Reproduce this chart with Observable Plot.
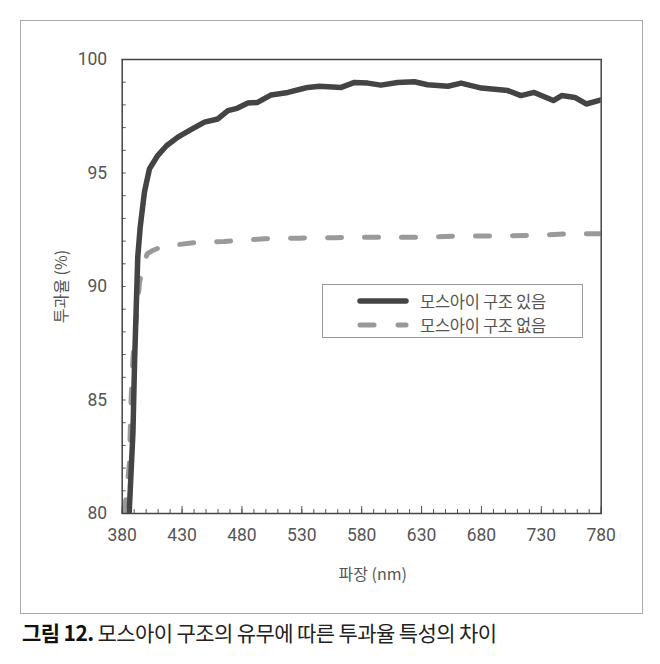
<!DOCTYPE html>
<html><head><meta charset="utf-8">
<script src="https://cdn.jsdelivr.net/npm/d3@7"></script>
<script src="https://cdn.jsdelivr.net/npm/@observablehq/plot@0.6"></script>
<style>
html,body{margin:0;padding:0;background:#fff;}
#wrap{position:relative;width:660px;height:664px;}
#border{position:absolute;left:20px;top:20px;width:623px;height:594px;border:1px solid #aaa;box-sizing:border-box;}
#chart{position:absolute;left:0;top:0;}
#legend{position:absolute;left:322px;top:284px;width:261px;height:54px;border:1px solid #9a9a9a;box-sizing:border-box;background:#fff;font-family:"Noto Sans CJK KR",sans-serif;font-weight:400;font-size:16.5px;color:#555;}
.row{position:absolute;left:34px;display:flex;align-items:center;}
.row span{margin-left:11px;letter-spacing:-0.3px;}
#caption{position:absolute;left:22px;top:617px;font-family:"Noto Sans CJK KR",sans-serif;font-size:21px;color:#222;letter-spacing:-0.6px;}
#caption b{font-weight:700;color:#111;}
</style>
</head><body>
<div id="wrap">
  <div id="border"></div>
  <div id="chart"></div>
  <div id="legend">
    <div class="row" style="top:4px"><svg width="52" height="20"><line x1="3" y1="10" x2="49" y2="10" stroke="#444" stroke-width="5.5" stroke-linecap="round"/></svg><span>모스아이 구조 있음</span></div>
    <div class="row" style="top:28px"><svg width="52" height="20"><line x1="3" y1="10" x2="49" y2="10" stroke="#999" stroke-width="5" stroke-linecap="round" stroke-dasharray="14,24"/></svg><span>모스아이 구조 없음</span></div>
  </div>
  <div id="caption"><b>그림 12.</b> 모스아이 구조의 유무에 따른 투과율 특성의 차이</div>
</div>
<script>
// Series: with moth-eye structure (solid)
const withNm  = [385.8,389,390.3,391.7,393,395,398.6,402.8,409.8,417,426.5,437,448.7,459.9,468.3,476,485,493,504.4,518.4,529.5,535,544.8,552,562.9,574,585,596,610,624,635,652,663,680,702,713,724,740,747,758,767.5,780];
const withVal = [80,83.6,86.6,89.05,91.3,92.6,94.17,95.19,95.78,96.2,96.58,96.9,97.24,97.38,97.75,97.85,98.08,98.11,98.44,98.55,98.7,98.77,98.82,98.8,98.77,98.99,98.96,98.87,98.99,99.02,98.89,98.82,98.96,98.74,98.63,98.41,98.55,98.19,98.41,98.33,98.04,98.22];
// Series: without moth-eye structure (dashed)
const withoutNm  = [381,383.3,386,387.5,389,391.7,394.5,398,401,406,415,427,444,465,499,528,558,581,629,660,691,721,753,780];
const withoutVal = [80.0,80.7,82.2,85.1,86.86,88.6,90.2,91.0,91.45,91.6,91.8,91.85,91.95,91.98,92.1,92.13,92.15,92.17,92.17,92.22,92.22,92.25,92.32,92.32];

const xTicks = [380,430,480,530,580,630,680,730,780];
const yTicks = [80,85,90,95,100];
const xMinor = d3.range(380,781,10);
const yMinor = d3.range(80,101,1);

const withData = withNm.map((x,i)=>({x, y: withVal[i]}));
const withoutData = withoutNm.map((x,i)=>({x, y: withoutVal[i]}));

const numFont = 'Roboto,"Liberation Sans",sans-serif';
const krFont = '"Noto Sans CJK KR",sans-serif';

const chart = Plot.plot({
  width: 660,
  height: 614,
  marginLeft: 121.7,
  marginRight: 59.3,
  marginTop: 59,
  marginBottom: 101,
  x: {domain: [380,780]},
  y: {domain: [80,100]},
  style: {background: "transparent", color: "#555"},
  marks: [
    Plot.line(withoutData, {x:"x", y:"y", stroke:"#9a9a9a", strokeWidth:5, strokeDasharray:"14,23", strokeLinecap:"round", clip:true}),
    Plot.line(withData, {x:"x", y:"y", stroke:"#444", strokeWidth:5.5, strokeLinejoin:"round", clip:true}),
    Plot.axisX({ticks: xMinor, tickSize: -4, text: null, label: null, stroke:"#555"}),
    Plot.axisX({ticks: xTicks, tickSize: -7, text: null, label: null, stroke:"#555"}),
    Plot.axisX({ticks: xTicks, tickSize: 0, tickPadding: 15, fontSize: 17.5, fontFamily: numFont, fill:"#555", label: null}),
    Plot.axisY({ticks: yMinor, tickSize: -4, text: null, label: null, stroke:"#555"}),
    Plot.axisY({ticks: yTicks, tickSize: 0, tickPadding: 15, fontSize: 17.5, fontFamily: numFont, fill:"#555", label: null}),
    Plot.text(["투과율 (%)"], {frameAnchor:"left", textAnchor:"middle", dx:-60, rotate:-90, fontSize:16, fontFamily:krFont, fill:"#555"}),
    Plot.text(["파장 (nm)"], {frameAnchor:"bottom", dx:11, dy:66, fontSize:16, fontFamily:krFont, fill:"#555"}),
    Plot.frame({stroke:"#444", strokeWidth:1.5})
  ]
});
document.getElementById("chart").appendChild(chart);
</script>
</body></html>
